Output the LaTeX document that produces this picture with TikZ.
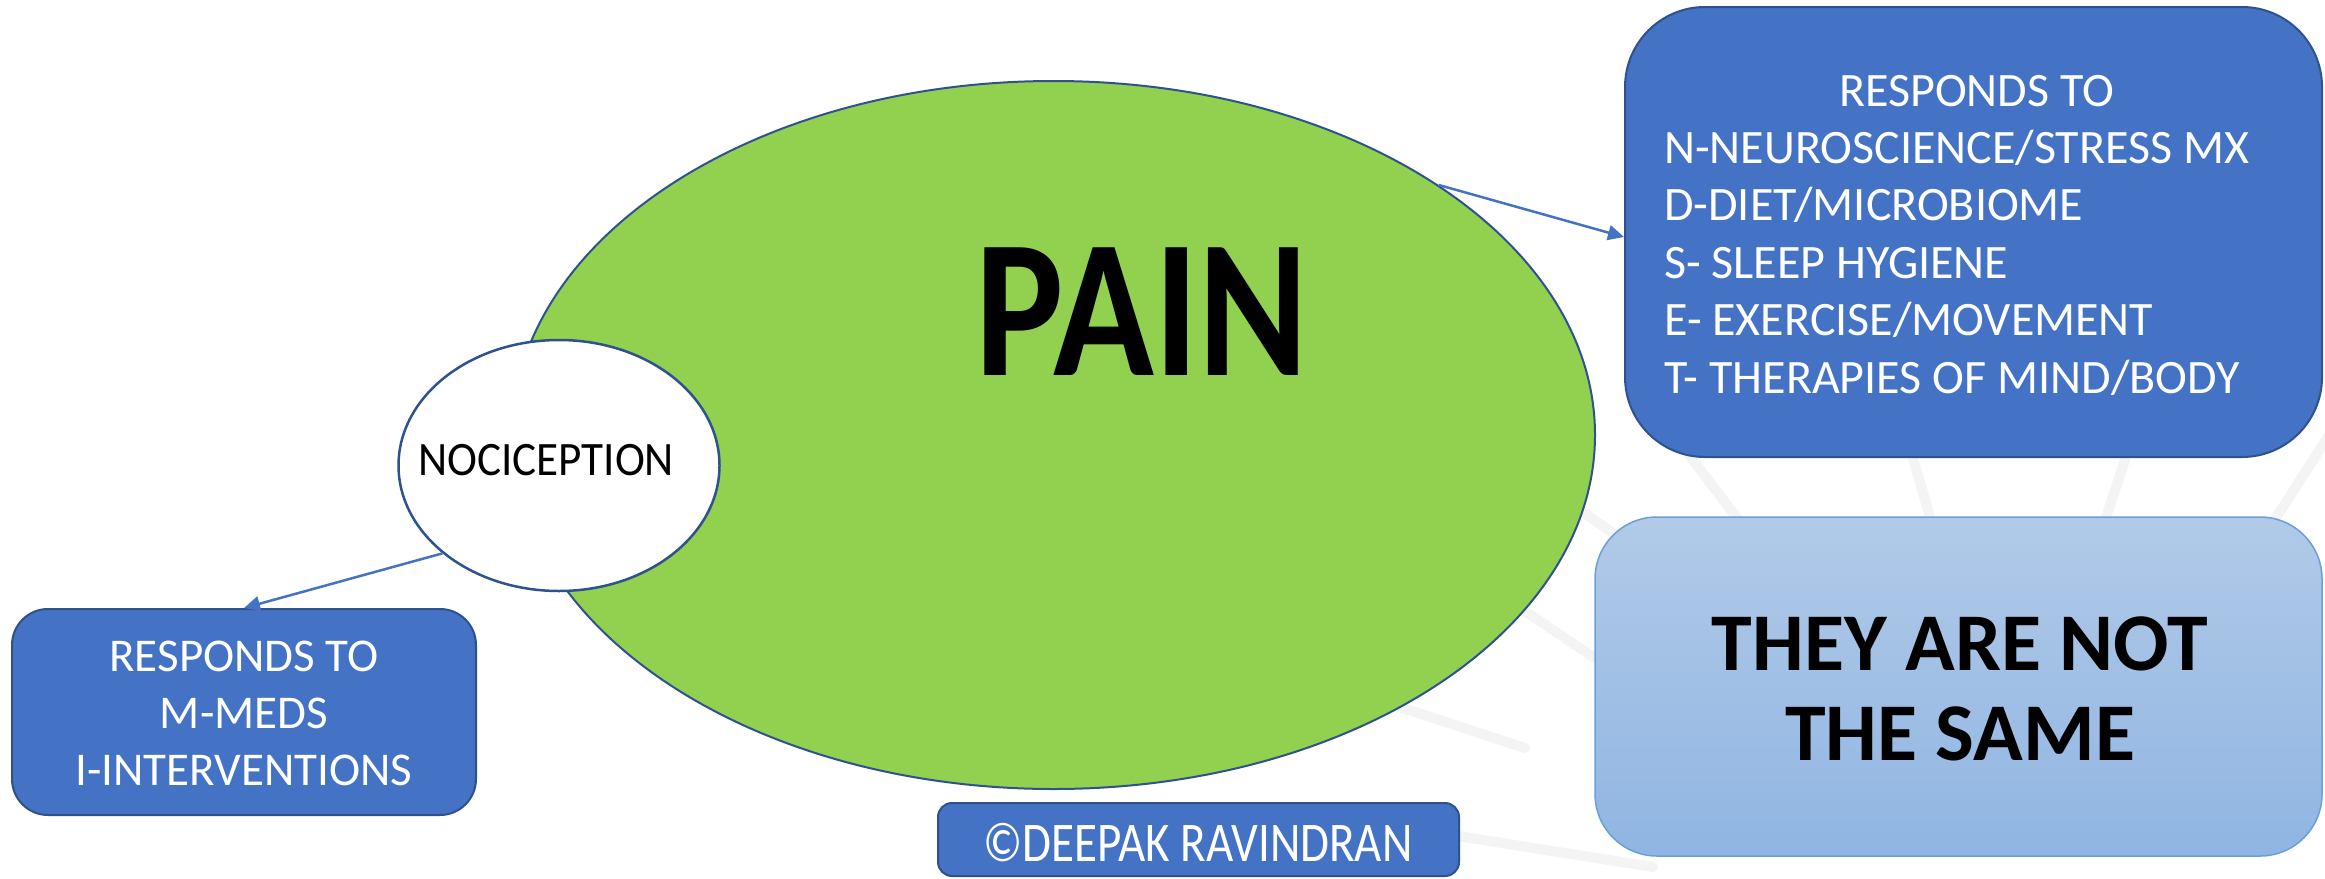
\documentclass[tikz,border=0pt]{standalone}
\usepackage{fontspec}
\setmainfont{Carlito}
\usepackage{graphicx}
\usetikzlibrary{shapes.geometric,arrows.meta}
\definecolor{pgreen}{HTML}{92D050}
\definecolor{pborder}{HTML}{2F528F}
\definecolor{pblue}{HTML}{4472C4}
\definecolor{ltop}{HTML}{B1CAE8}
\definecolor{lbot}{HTML}{90B5E2}
\definecolor{lborder}{HTML}{6A9FD8}
\definecolor{raycol}{HTML}{F4F4F4}
\begin{document}
\begin{tikzpicture}[x=1pt,y=-1pt,
  bluebox/.style={draw=pborder, line width=2pt, fill=pblue, inner sep=0pt},
  arr/.style={draw=pblue, line width=2.5pt, -{Triangle[length=16pt,width=15pt]}},
  rayline/.style={draw=raycol, line width=10pt, line cap=round},
  whitetext/.style={text=white, inner sep=0pt},
  blacktext/.style={text=black, inner sep=0pt}]
\useasboundingbox[fill=white] (0,0) rectangle (2325,878);
% faint background rays
\draw[rayline] (1670,430) -- (1750,535);
\draw[rayline] (1905,430) -- (1935,535);
\draw[rayline] (2135,430) -- (2100,535);
\draw[rayline] (2345,410) -- (2265,535);
\draw[rayline] (1530,475) -- (1620,538);
\draw[rayline] (1480,581) -- (1620,675);
\draw[rayline] (1360,694) -- (1525,748);
\draw[rayline] (1420,830) -- (1653,867);
% shapes
\node[ellipse, draw=pborder, line width=2pt, fill=pgreen, inner sep=0pt,
  minimum width=1083pt, minimum height=708pt] (pain) at (1053.5,435) {};
\node[blacktext, anchor=base] (paintext) at (1142,375)
  {\fontsize{197}{200}\selectfont\bfseries\scalebox{0.845}[1]{PAIN}};
\node[ellipse, draw=pborder, line width=2.5pt, fill=white, inner sep=0pt,
  minimum width=321pt, minimum height=251pt] (noci) at (559,465.5) {};
\node[blacktext, anchor=base] (nocitext) at (546,475)
  {\fontsize{48}{50}\selectfont\scalebox{0.94}[1]{NOCICEPTION}};
\node[bluebox, rounded corners=80pt, minimum width=697pt, minimum height=450pt] (rbox) at (1973.5,232) {};
\node[whitetext, anchor=base west] (rtext) at (1664,106)
  {\fontsize{48}{57.4}\selectfont\begin{tabular}[t]{@{}l@{}}\multicolumn{1}{@{}c@{}}{\hspace*{40pt}RESPONDS TO}\\
  N-NEUROSCIENCE/STRESS MX\\
  D-DIET/MICROBIOME\\
  S- SLEEP HYGIENE\\
  E- EXERCISE/MOVEMENT\\
  T- THERAPIES OF MIND/BODY\end{tabular}};
\node[draw=lborder, line width=1.5pt, top color=ltop, bottom color=lbot, rounded corners=62pt,
  inner sep=0pt, minimum width=727pt, minimum height=339pt] (lbox2) at (1958.5,686.5) {};
\node[blacktext, anchor=base] (sametext) at (1960,670)
  {\fontsize{82}{90}\selectfont\bfseries\begin{tabular}[t]{@{}c@{}}THEY ARE NOT\\THE SAME\end{tabular}};
\node[bluebox, rounded corners=36pt, minimum width=464pt, minimum height=206pt] (lbox) at (244,712) {};
\node[whitetext, anchor=base] (ltext) at (244,671)
  {\fontsize{47}{57}\selectfont\begin{tabular}[t]{@{}c@{}}RESPONDS TO\\M-MEDS\\I-INTERVENTIONS\end{tabular}};
\node[bluebox, rounded corners=14pt, minimum width=521pt, minimum height=73pt] (cbox) at (1198.5,839.5) {};
\node[whitetext, anchor=base] (ctext) at (1198,861)
  {\fontsize{56}{60}\selectfont\scalebox{0.84}[1]{©DEEPAK RAVINDRAN}};
% connectors
\draw[arr] (pain.33) -- ([yshift=-5pt]rbox.west);
\draw[arr] (noci.217) -- (lbox.north);
\end{tikzpicture}
\end{document}
